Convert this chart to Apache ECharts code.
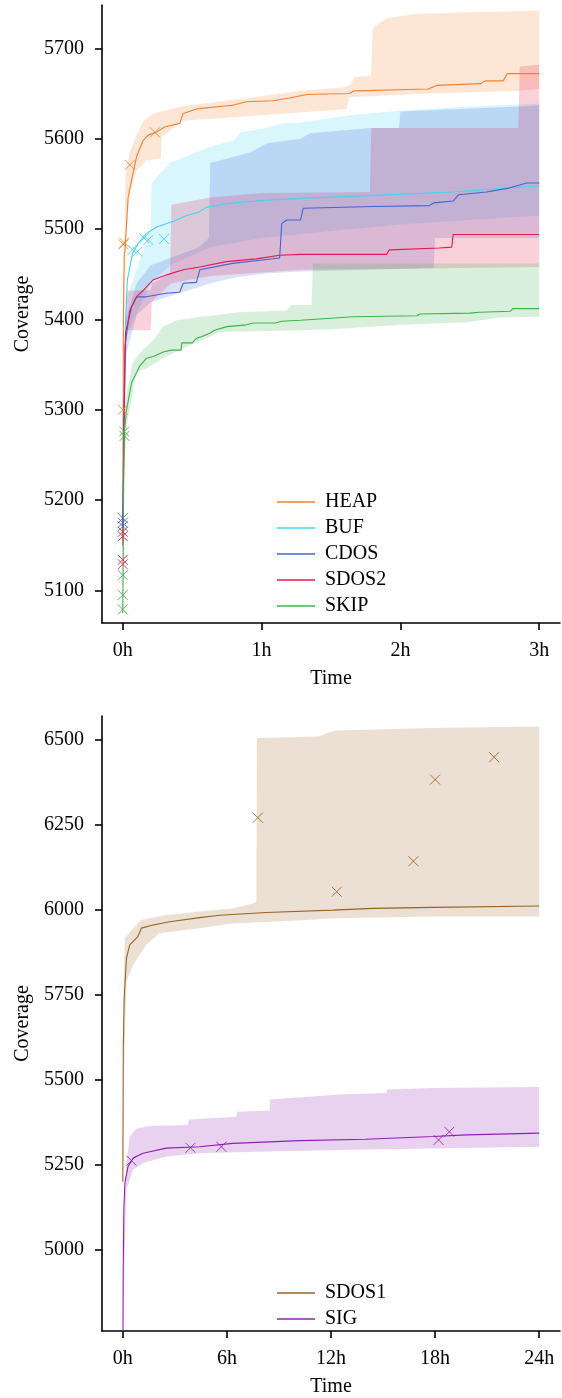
<!DOCTYPE html>
<html>
<head>
<meta charset="utf-8">
<script src="https://cdn.jsdelivr.net/npm/echarts@6/dist/echarts.min.js"></script>
<style>
  html, body { margin: 0; padding: 0; background: #fff; }
  #chart { width: 562px; height: 1398px; }
</style>
</head>
<body>
<div id="chart"></div>
<script>
// ---- tick labels ----
var topTicksX = [0, 1, 2, 3];
var topTicksY = [5100, 5200, 5300, 5400, 5500, 5600, 5700];
var botTicksX = [0, 6, 12, 18, 24];
var botTicksY = [5000, 5250, 5500, 5750, 6000, 6250, 6500];

// ---- top plot (hours, coverage) ----
var heapT = [0, 0.004, 0.01, 0.017, 0.038, 0.063, 0.099, 0.146, 0.182, 0.24, 0.3, 0.41, 0.435, 0.53, 0.79, 0.89, 1.08, 1.2, 1.33, 1.63, 1.67, 2.2, 2.26, 2.58, 2.61, 2.74, 2.77, 3.0];
var heapV = [5160, 5400, 5470, 5480, 5535, 5554, 5580, 5598, 5604, 5607, 5613, 5617, 5628, 5633, 5637, 5641, 5642, 5645, 5649, 5650, 5653, 5655, 5659, 5661, 5664, 5664, 5672, 5672];
var heapHiT = [0, 0.01, 0.02, 0.05, 0.1, 0.15, 0.22, 0.43, 0.9, 1.28, 1.6, 1.64, 1.67, 1.79, 1.8, 1.85, 1.9, 2.1, 2.5, 2.85, 3.0];
var heapHi = [5300, 5480, 5560, 5585, 5605, 5620, 5628, 5636, 5645, 5653, 5657, 5660, 5668, 5670, 5722, 5728, 5733, 5738, 5740, 5741, 5742];
var heapLoT = [0, 0.01, 0.02, 0.05, 0.1, 0.17, 0.275, 0.28, 0.43, 0.9, 1.28, 1.61, 1.63, 2.2, 2.85, 3.0];
var heapLo = [5100, 5380, 5480, 5540, 5565, 5576, 5578, 5602, 5620, 5625, 5629, 5633, 5646, 5650, 5653, 5655];
var heapMarkT = [0, 0.005, 0.01, 0.05, 0.232];
var heapMarkV = [5300, 5483, 5485, 5571, 5607];

var bufT = [0, 0.01, 0.02, 0.033, 0.07, 0.11, 0.17, 0.24, 0.39, 0.46, 0.55, 0.6, 0.75, 0.87, 1.04, 1.28, 1.78, 2.38, 3.0];
var bufV = [5170, 5300, 5400, 5444, 5473, 5484, 5495, 5502, 5510, 5515, 5519, 5524, 5528, 5530, 5532, 5534, 5537, 5541, 5548];
var bufHiT = [0, 0.02, 0.2, 0.207, 0.34, 0.45, 0.63, 0.8, 0.85, 1.03, 1.15, 1.28, 1.64, 2.0, 2.43, 3.0];
var bufHi = [5180, 5420, 5500, 5551, 5573, 5580, 5591, 5598, 5607, 5612, 5617, 5618, 5626, 5631, 5635, 5639];
var bufLoT = [0, 0.02, 0.2, 0.34, 0.63, 1.0, 1.5, 2.0, 3.0];
var bufLo = [5160, 5380, 5440, 5460, 5480, 5490, 5498, 5505, 5515];
var bufMarkT = [0.07, 0.105, 0.153, 0.184, 0.296];
var bufMarkV = [5477, 5475, 5490, 5488, 5489];

var cdosT = [0, 0.008, 0.015, 0.05, 0.1, 0.17, 0.31, 0.41, 0.435, 0.53, 0.555, 0.79, 1.13, 1.145, 1.18, 1.28, 1.3, 1.8, 2.21, 2.24, 2.38, 2.42, 2.62, 2.77, 2.91, 3.0];
var cdosV = [5170, 5300, 5370, 5410, 5425, 5425, 5429, 5430, 5440, 5441, 5455, 5462, 5468, 5506, 5510, 5510, 5523, 5525, 5526, 5529, 5531, 5538, 5541, 5545, 5551, 5551];
var cdosHiT = [0, 0.02, 0.1, 0.2, 0.55, 0.62, 0.63, 0.8, 0.92, 1.04, 1.28, 1.35, 1.79, 1.99, 2.0, 2.9, 3.0];
var cdosHi = [5180, 5400, 5440, 5460, 5480, 5490, 5573, 5580, 5585, 5595, 5600, 5606, 5612, 5612, 5630, 5636, 5637];
var cdosLoT = [0, 0.02, 0.1, 0.2, 0.55, 0.63, 0.8, 1.04, 1.28, 1.8, 2.24, 2.25, 3.0];
var cdosLo = [5160, 5360, 5405, 5419, 5436, 5440, 5446, 5451, 5453, 5455, 5457, 5490, 5490];
var cdosMarkT = [0, 0, 0];
var cdosMarkV = [5180, 5175, 5171];

var sdos2T = [0, 0.01, 0.02, 0.063, 0.099, 0.146, 0.22, 0.31, 0.435, 0.555, 0.745, 0.96, 1.13, 1.28, 1.9, 1.92, 2.28, 2.37, 2.38, 3.0];
var sdos2V = [5150, 5300, 5385, 5414, 5425, 5432, 5444, 5449, 5455, 5458, 5464, 5467, 5471, 5472, 5472, 5477, 5479, 5480, 5494, 5494];
var sdos2HiT = [0, 0.01, 0.03, 0.2, 0.21, 0.34, 0.35, 0.63, 1.0, 1.78, 1.79, 2.85, 2.86, 3.0];
var sdos2Hi = [5170, 5350, 5432, 5432, 5440, 5450, 5527, 5535, 5540, 5541, 5612, 5612, 5680, 5682];
var sdos2LoT = [0, 0.01, 0.03, 0.2, 0.21, 0.35, 0.63, 1.28, 2.0, 3.0];
var sdos2Lo = [5100, 5250, 5388, 5388, 5420, 5440, 5448, 5455, 5456, 5458];
var sdos2MarkT = [0, 0, 0, 0];
var sdos2MarkV = [5165, 5160, 5134, 5129];

var skipT = [0, 0.005, 0.01, 0.027, 0.063, 0.12, 0.17, 0.22, 0.29, 0.35, 0.42, 0.425, 0.5, 0.53, 0.57, 0.63, 0.66, 0.75, 0.89, 0.94, 1.1, 1.145, 1.28, 1.66, 2.12, 2.14, 2.5, 2.57, 2.79, 2.81, 3.0];
var skipV = [5075, 5200, 5275, 5300, 5330, 5348, 5357, 5359, 5364, 5366, 5366, 5374, 5374, 5379, 5381, 5385, 5388, 5392, 5394, 5396, 5396, 5398, 5399, 5403, 5404, 5406, 5407, 5408, 5409, 5412, 5412];
var skipHiT = [0, 0.01, 0.03, 0.07, 0.14, 0.22, 0.29, 0.39, 0.56, 0.68, 0.84, 1.18, 1.21, 1.36, 1.37, 3.0];
var skipHi = [5090, 5290, 5320, 5352, 5366, 5377, 5392, 5399, 5403, 5405, 5408, 5410, 5416, 5416, 5462, 5462];
var skipLoT = [0, 0.01, 0.03, 0.1, 0.17, 0.29, 0.46, 0.63, 0.7, 1.28, 1.51, 2.0, 2.48, 2.72, 3.0];
var skipLo = [5060, 5240, 5285, 5342, 5346, 5357, 5370, 5381, 5386, 5388, 5389, 5394, 5397, 5402, 5403];
var skipMarkT = [0.01, 0.012, 0, 0, 0];
var skipMarkV = [5276, 5271, 5117, 5095, 5079];

// ---- bottom plot (hours, coverage) ----
var sdos1T = [0, 0.03, 0.08, 0.21, 0.4, 0.88, 1.0, 1.07, 1.75, 2.7, 4.43, 5.58, 8.27, 12.1, 14.4, 17.9, 24];
var sdos1V = [5200, 5600, 5741, 5858, 5897, 5922, 5937, 5946, 5955, 5965, 5977, 5984, 5992, 5999, 6004, 6007, 6011];
var sdos1HiT = [0, 0.05, 0.12, 0.6, 1.07, 2.5, 4.43, 6.3, 7.6, 7.7, 7.73, 11.3, 11.8, 12.3, 17.8, 24];
var sdos1Hi = [5250, 5800, 5916, 5946, 5970, 5985, 5995, 6004, 6020, 6024, 6505, 6510, 6520, 6527, 6535, 6539];
var sdos1LoT = [0, 0.05, 0.21, 0.6, 1.36, 2.1, 4.43, 6.3, 10.6, 12.1, 17.8, 24];
var sdos1Lo = [5150, 5500, 5790, 5838, 5897, 5931, 5946, 5960, 5970, 5975, 5980, 5980];
var sdos1MarkT = [7.78, 12.33, 16.75, 18.0, 21.4];
var sdos1MarkV = [6271, 6053, 6143, 6383, 6449];

var sigT = [0, 0.02, 0.06, 0.12, 0.3, 0.6, 1.17, 2.5, 4.43, 6.35, 10.2, 14, 17.9, 19.8, 24];
var sigV = [4600, 4924, 5119, 5196, 5245, 5270, 5284, 5299, 5303, 5313, 5321, 5325, 5333, 5338, 5343];
var sigHiT = [0, 0.1, 0.21, 0.4, 0.79, 1.55, 3.76, 3.8, 6.55, 6.6, 8.46, 8.5, 12.5, 15.2, 15.25, 17.9, 24];
var sigHi = [4800, 5150, 5255, 5333, 5357, 5364, 5367, 5383, 5391, 5406, 5409, 5442, 5457, 5461, 5471, 5476, 5479];
var sigLoT = [0, 0.2, 0.6, 1.17, 2.5, 4.43, 8.3, 14, 24];
var sigLo = [4762, 5177, 5236, 5255, 5274, 5284, 5289, 5295, 5303];
var sigMarkT = [0.5, 3.9, 5.68, 18.2, 18.82];
var sigMarkV = [5262, 5300, 5303, 5323, 5347];

var FONT = "'Liberation Serif', 'DejaVu Serif', serif";
var X_MARK = 'path://M0,0L10,10M10,0L0,10';

function pairs(ts, vs) {
  return ts.map(function (t, i) { return [t, vs[i]]; });
}

// shaded min/max band, drawn as one polygon through the axes
function band(idx, hiT, hi, loT, lo, color) {
  return {
    type: 'custom', xAxisIndex: idx, yAxisIndex: idx, silent: true, z: 1,
    data: [[hiT[0], hi[0]]],
    renderItem: function (params, api) {
      var pts = [];
      for (var i = 0; i < hiT.length; i++) pts.push(api.coord([hiT[i], hi[i]]));
      for (var j = loT.length - 1; j >= 0; j--) pts.push(api.coord([loT[j], lo[j]]));
      return { type: 'polygon', shape: { points: pts }, style: { fill: color, opacity: 0.2 } };
    }
  };
}

function line(idx, name, ts, vs, color) {
  return {
    name: name, type: 'line', xAxisIndex: idx, yAxisIndex: idx,
    data: pairs(ts, vs), symbol: 'none', color: color,
    lineStyle: { width: 1.1, color: color }, z: 3, silent: true
  };
}

function marks(idx, ts, vs, color) {
  return {
    type: 'scatter', xAxisIndex: idx, yAxisIndex: idx, silent: true, z: 4,
    data: pairs(ts, vs), symbol: X_MARK, symbolSize: 10,
    itemStyle: { color: 'transparent', borderColor: color, borderWidth: 1, opacity: 0.85 }
  };
}

function xAxis(idx, min, max, ticks) {
  return {
    gridIndex: idx, type: 'value', min: min, max: max,
    name: 'Time', nameLocation: 'middle', nameGap: 46,
    nameTextStyle: { fontFamily: FONT, fontSize: 20, color: '#000' },
    axisLine: { show: true, onZero: false, lineStyle: { color: '#000', width: 1.6 } },
    axisTick: { show: true, length: 7, customValues: ticks, lineStyle: { color: '#000', width: 1.6 } },
    axisLabel: { customValues: ticks, margin: 18, fontFamily: FONT, fontSize: 20, color: '#000',
      formatter: function (v) { return v + 'h'; } },
    splitLine: { show: false }
  };
}

function yAxis(idx, min, max, ticks) {
  return {
    gridIndex: idx, type: 'value', min: min, max: max,
    name: 'Coverage', nameLocation: 'middle', nameGap: 62,
    nameTextStyle: { fontFamily: FONT, fontSize: 20, color: '#000' },
    axisLine: { show: true, onZero: false, lineStyle: { color: '#000', width: 1.6 } },
    axisTick: { show: true, length: 7, customValues: ticks, lineStyle: { color: '#000', width: 1.6 } },
    axisLabel: { customValues: ticks, margin: 18, fontFamily: FONT, fontSize: 20, color: '#000',
      formatter: function (v) { return String(v); } },
    splitLine: { show: false }
  };
}

function legend(names, top) {
  return {
    data: names, orient: 'vertical', left: 272, top: top,
    icon: 'rect', itemWidth: 38, itemHeight: 1.5, itemGap: 6,
    selectedMode: false,
    textStyle: { fontFamily: FONT, fontSize: 20, color: '#000', lineHeight: 20, padding: [0, 0, 0, 5] }
  };
}

var C = {
  heap: '#f58231', buf: '#42d4f4', cdos: '#4363d8', sdos2: '#e6194b',
  skip: '#3cb44b', sdos1: '#9a6324', sig: '#911eb4'
};

var chart = echarts.init(document.getElementById('chart'));
chart.setOption({
  animation: false,
  backgroundColor: '#fff',
  grid: [
    { left: 102, top: 5, width: 458, height: 618 },
    { left: 102, top: 716, width: 458, height: 621 }
  ],
  xAxis: [xAxis(0, -0.15, 3.15, topTicksX), xAxis(1, -1.2, 25.2, botTicksX)],
  yAxis: [yAxis(0, 5064, 5748, topTicksY), yAxis(1, 4761, 6570, botTicksY)],
  legend: [
    legend(['HEAP', 'BUF', 'CDOS', 'SDOS2', 'SKIP'], 487),
    legend(['SDOS1', 'SIG'], 1278)
  ],
  series: [
    band(0, heapHiT, heapHi, heapLoT, heapLo, C.heap),
    band(0, bufHiT, bufHi, bufLoT, bufLo, C.buf),
    band(0, cdosHiT, cdosHi, cdosLoT, cdosLo, C.cdos),
    band(0, sdos2HiT, sdos2Hi, sdos2LoT, sdos2Lo, C.sdos2),
    band(0, skipHiT, skipHi, skipLoT, skipLo, C.skip),
    line(0, 'HEAP', heapT, heapV, C.heap),
    line(0, 'BUF', bufT, bufV, C.buf),
    line(0, 'CDOS', cdosT, cdosV, C.cdos),
    line(0, 'SDOS2', sdos2T, sdos2V, C.sdos2),
    line(0, 'SKIP', skipT, skipV, C.skip),
    marks(0, heapMarkT, heapMarkV, C.heap),
    marks(0, bufMarkT, bufMarkV, C.buf),
    marks(0, cdosMarkT, cdosMarkV, C.cdos),
    marks(0, sdos2MarkT, sdos2MarkV, C.sdos2),
    marks(0, skipMarkT, skipMarkV, C.skip),

    band(1, sdos1HiT, sdos1Hi, sdos1LoT, sdos1Lo, C.sdos1),
    band(1, sigHiT, sigHi, sigLoT, sigLo, C.sig),
    line(1, 'SDOS1', sdos1T, sdos1V, C.sdos1),
    line(1, 'SIG', sigT, sigV, C.sig),
    marks(1, sdos1MarkT, sdos1MarkV, C.sdos1),
    marks(1, sigMarkT, sigMarkV, C.sig)
  ]
});
</script>
</body>
</html>
